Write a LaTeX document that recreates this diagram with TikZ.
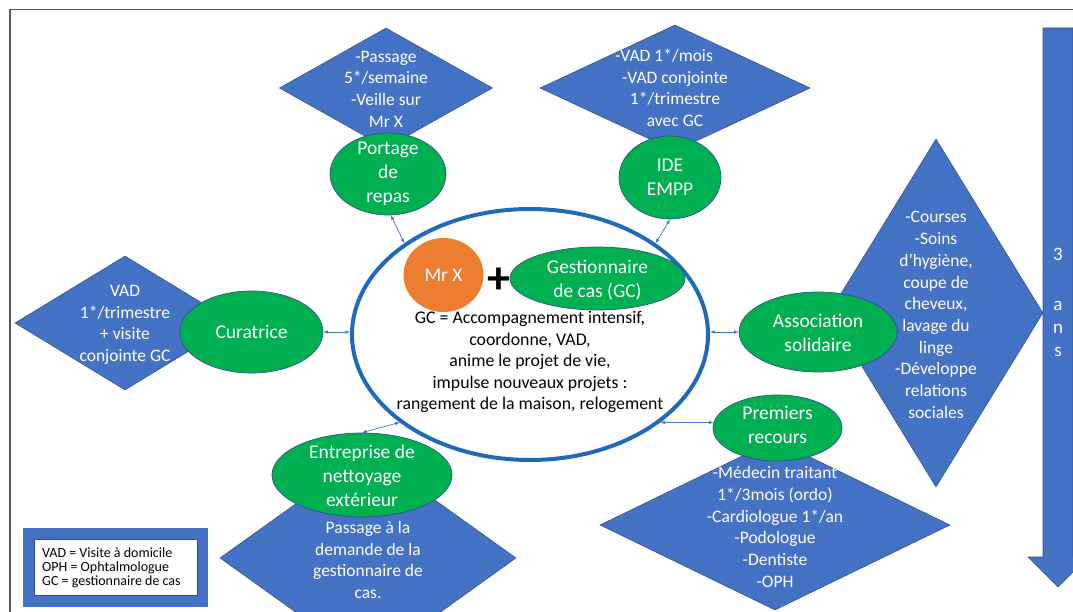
\documentclass[tikz,border=0pt]{standalone}
\usepackage{fontspec}
\setmainfont{Carlito}
\usetikzlibrary{shapes.geometric,arrows.meta}
\definecolor{dblue}{HTML}{4472C4}
\definecolor{dedge}{HTML}{2F528F}
\definecolor{egreen}{HTML}{00B050}
\definecolor{mrxorange}{HTML}{ED7D31}
\definecolor{ring}{HTML}{1F6BBA}
\begin{document}
\begin{tikzpicture}[x=1pt,y=-1pt,
  diam/.style={diamond, fill=dblue, draw=dedge, line width=0.6pt, inner sep=0pt, aspect=1},
  ell/.style={ellipse, fill=egreen, draw=dedge, line width=0.7pt, inner sep=0pt},
  dtext/.style={text=white, align=center, inner sep=0pt, font=\fontsize{17.5}{21.7}\selectfont},
  etext/.style={text=white, align=center, inner sep=0pt, font=\fontsize{19.5}{24}\selectfont},
  conn/.style={draw=dblue, line width=0.7pt, arrows={Latex[length=4.5pt,width=3.5pt]-Latex[length=4.5pt,width=3.5pt]}},
]
\clip (0,0) rectangle (1073,612);
\fill[white] (0,0) rectangle (1073,612);

% diamonds
\node[diam, minimum width=213, minimum height=120] (dport) at (386,88) {};
\node[diam, minimum width=270, minimum height=126] (dide) at (675,88) {};
\node[diam, minimum width=220, minimum height=134] (dcur) at (125,323) {};
\node[diam, minimum width=214, minimum height=348] (dasso) at (936,313) {};
\node[diam, minimum width=350, minimum height=170] (dprem) at (775,525) {};
\node[diam, minimum width=296, minimum height=212] (dentr) at (368,558) {};

\node[dtext] (tdport) at (386,89) {-Passage\\5*/semaine\\-Veille sur\\Mr X};
\node[dtext] (tdide) at (675,88) {-VAD 1*/mois\hspace*{22pt}\\-VAD conjointe\\1*/trimestre\\avec GC};
\node[dtext] (tdcur) at (125,325) {VAD\\1*/trimestre\\+ visite\\conjointe GC};
\node[dtext] (tdasso) at (936,315) {-Courses\\-Soins\\d’hygiène,\\coupe de\\cheveux,\\lavage du\\linge\\-Développe\\relations\\sociales};
\node[dtext] (tdprem) at (775,527) {-Médecin traitant\\1*/3mois (ordo)\\-Cardiologue 1*/an\\-Podologue\\-Dentiste\\-OPH};
\node[dtext] (tdentr) at (368,560) {Passage à la\\demande de la\\gestionnaire de\\cas.};

% central ellipse
\node[ellipse, draw=ring, line width=4pt, fill=white, inner sep=0pt,
      minimum width=356, minimum height=251] (central) at (530,334.5) {};

% ellipses
\node[ell, minimum width=116, minimum height=82] (port) at (388,174) {};
\node[ell, minimum width=102, minimum height=83] (ide) at (670,177.5) {};
\node[ell, minimum width=143, minimum height=82] (cur) at (251.5,332) {};
\node[ell, minimum width=158, minimum height=80] (asso) at (818,332) {};
\node[ell, minimum width=129, minimum height=66] (prem) at (777.5,428) {};
\node[ell, minimum width=180, minimum height=84] (entr) at (362,475) {};
\node[ell, minimum width=175, minimum height=63] (gest) at (597.5,278.5) {};
\node[ellipse, fill=mrxorange, inner sep=0pt, minimum width=80, minimum height=74] (mrx) at (443.5,275) {};

\node[etext] (tport) at (port) {Portage\\de\\repas};
\node[etext] (tide) at (ide) {IDE\\EMPP};
\node[etext] (tcur) at (cur) {Curatrice};
\node[etext] (tasso) at (818,333) {Association\\solidaire};
\node[etext] (tprem) at (777.5,425) {Premiers\\recours};
\node[etext] (tentr) at (362,476) {Entreprise de\\nettoyage\\extérieur};
\node[etext] (tgest) at (597.5,280) {Gestionnaire\\de cas (GC)};
\node[etext] (tmrx) at (mrx) {Mr X};
\node[inner sep=0pt, font=\fontsize{46}{46}\selectfont\bfseries] (plus) at (499,281) {+};

\node[align=center, inner sep=0pt, font=\fontsize{17.8}{21.5}\selectfont] (gctext) at (530,362)
  {GC = Accompagnement intensif,\\coordonne, VAD,\\anime le projet de vie,\\impulse nouveaux projets :\\rangement de la maison, relogement};

% connectors
\draw[conn] (port.-86) -- (central.144);
\draw[conn] (ide.-90) -- (central.36);
\draw[conn] (cur.east) -- (cur.east -| central.west);
\draw[conn] (central.east |- asso.west) -- (asso.west);
\draw[conn] (central.-34) -- (prem.175);
\draw[conn] (entr.north) -- (central.214);

% time arrow
\filldraw[fill=dblue, draw=dedge, line width=0.6pt]
  (1043,28) -- (1073,28) -- (1073,557) -- (1088,557) -- (1058,587) -- (1028,557) -- (1043,557) -- cycle;
\node[align=center, inner sep=0pt, text=white, font=\fontsize{19}{23}\selectfont] (ans) at (1058,302) {3\\[27pt]a\\n\\s};

% legend
\fill[dblue] (23,528) rectangle (208,607);
\filldraw[fill=white, draw=dedge, line width=0.5pt] (34,539) rectangle (197,595);
\node[anchor=west, align=left, inner sep=0pt, font=\fontsize{14}{14}\selectfont] (legend) at (42,567.5)
  {VAD = Visite à domicile\\OPH = Ophtalmologue\\GC = gestionnaire de cas};

% frame
\draw[line width=1.5pt, draw=black!65] (10,9.5) rectangle (1200,700);
\end{tikzpicture}
\end{document}
